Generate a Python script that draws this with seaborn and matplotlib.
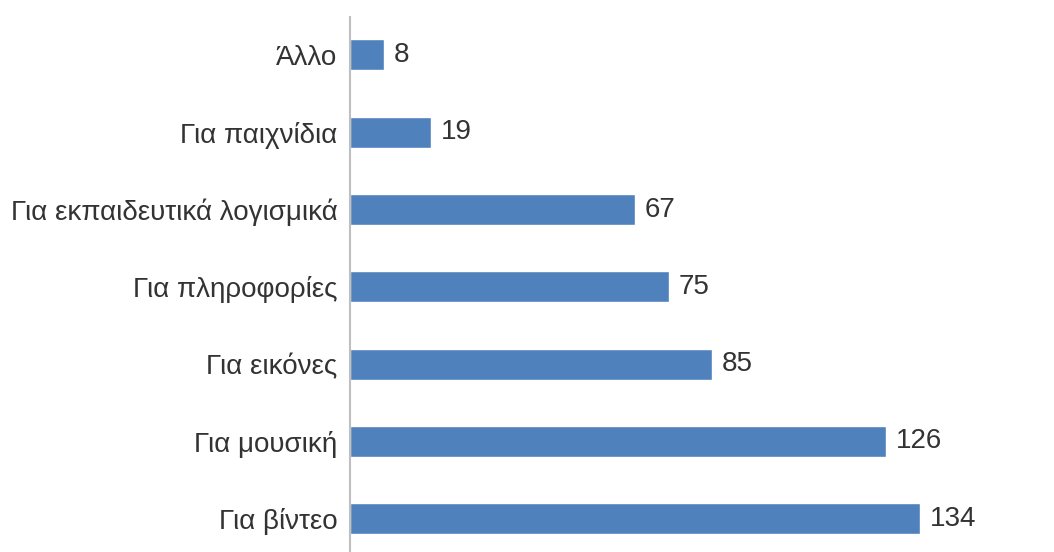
import matplotlib
matplotlib.use("Agg")
import matplotlib.pyplot as plt
import seaborn as sns
import pandas as pd

categories = ["Άλλο", "Για παιχνίδια", "Για εκπαιδευτικά λογισμικά", "Για πληροφορίες",
              "Για εικόνες", "Για μουσική", "Για βίντεο"]
values = [8, 19, 67, 75, 85, 126, 134]

sns.set_theme(style="white")
plt.rcParams['font.family'] = ['Liberation Sans', 'DejaVu Sans']

df = pd.DataFrame({"cat": categories, "val": values})

fig = plt.figure(figsize=(10.54, 5.52), dpi=100)
ax = fig.add_axes([350/1054, 0, 1 - 350/1054, (552-17)/552])
sns.barplot(data=df, y="cat", x="val", orient="h", color="#4F81BD", saturation=1,
            width=0.40, ax=ax)
ax.set_xlim(0, 165.5)
ax.set_ylim(6.43, -0.49)
for s in ["top", "right", "bottom"]:
    ax.spines[s].set_visible(False)
ax.spines["left"].set_color("#BFBFBF")
ax.spines["left"].set_linewidth(1.5)
ax.set_xticks([])
ax.set_xlabel("")
ax.set_ylabel("")
ax.tick_params(axis="y", length=0, pad=9, labelsize=20, labelcolor="#333333")
for c in ax.containers:
    ax.bar_label(c, padding=7, fontsize=20, color="#333333")
fig.savefig("out.png", dpi=100)
